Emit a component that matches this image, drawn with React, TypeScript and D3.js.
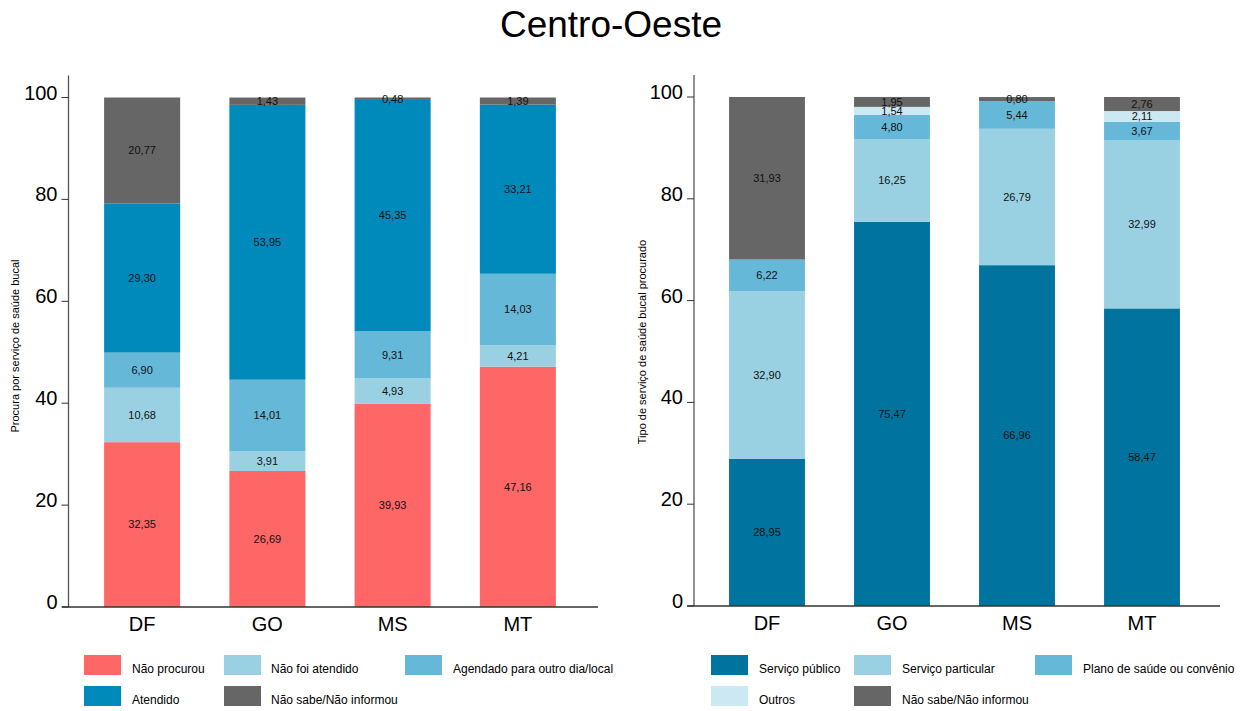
import React from "react";
import * as d3 from "d3";

const states = ["DF", "GO", "MS", "MT"];
const yTicks = [0, 20, 40, 60, 80, 100];

// painel esquerdo: procura por serviço
const procuraKeys = ["Não procurou", "Não foi atendido", "Agendado para outro dia/local", "Atendido", "Não sabe/Não informou"];
const procuraColors = ["#FF6666", "#99D1E3", "#66B8D8", "#008ABB", "#666666"];
const naoProcurou = [32.35, 26.69, 39.93, 47.16];
const naoFoiAtendido = [10.68, 3.91, 4.93, 4.21];
const agendado = [6.9, 14.01, 9.31, 14.03];
const atendido = [29.3, 53.95, 45.35, 33.21];
const procuraNaoSabe = [20.77, 1.43, 0.48, 1.39];

// painel direito: tipo de serviço
const tipoKeys = ["Serviço público", "Serviço particular", "Plano de saúde ou convênio", "Outros", "Não sabe/Não informou"];
const tipoColors = ["#00739E", "#99D1E3", "#66B8D8", "#CCE8F2", "#666666"];
const publico = [28.95, 75.47, 66.96, 58.47];
const particular = [32.9, 16.25, 26.79, 32.99];
const plano = [6.22, 4.8, 5.44, 3.67];
const outros = [0, 1.54, 0, 2.11];
const tipoNaoSabe = [31.93, 1.95, 0.8, 2.76];

const font = "'Liberation Sans', Arial, sans-serif";
const fmt = (v: number) => v.toFixed(2).replace(".", ",");

type PanelProps = {
  series: number[][];
  keys: string[];
  colors: string[];
  axisX: number;
  xRange: [number, number];
  lineRange: [number, number];
  yRange: [number, number];
  yLabel: string;
  yLabelX: number;
  yLabelY: number;
  legendX: number[];
  legendTextX: number[];
};

const Panel = (p: PanelProps) => {
  const x = d3.scaleBand().domain(states).range(p.xRange).paddingInner(0.393).paddingOuter(0.1965);
  const y = d3.scaleLinear().domain([0, 100]).range(p.yRange);
  const rows = states.map((s, i) => {
    const r: any = { state: s };
    p.keys.forEach((k, j) => (r[k] = p.series[j][i]));
    return r;
  });
  const stacked = d3.stack().keys(p.keys)(rows);

  return (
    <g fontFamily={font}>
      {stacked.map((layer, j) => (
        <g key={p.keys[j]} fill={p.colors[j]}>
          {layer.map((d, i) =>
            d[1] - d[0] > 0 ? (
              <rect key={i} x={x(states[i])} y={y(d[1])} width={x.bandwidth()} height={y(d[0]) - y(d[1])} />
            ) : null
          )}
        </g>
      ))}
      {stacked.map((layer, j) => (
        <g key={"l" + j} fontSize={11} fill="#111" textAnchor="middle">
          {layer.map((d, i) =>
            d[1] - d[0] > 0 ? (
              <text key={i} x={x(states[i])! + x.bandwidth() / 2} y={y((d[0] + d[1]) / 2)} dy="0.35em">
                {fmt(d[1] - d[0])}
              </text>
            ) : null
          )}
        </g>
      ))}
      {/* eixos */}
      <line x1={p.axisX} x2={p.axisX} y1={y(100) - 22} y2={y(0)} stroke="#555" strokeWidth={1.3} />
      <line x1={p.lineRange[0]} x2={p.lineRange[1]} y1={y(0)} y2={y(0)} stroke="#333" strokeWidth={1.5} />
      {yTicks.map((t) => (
        <g key={t}>
          <line x1={p.axisX - 7} x2={p.axisX} y1={y(t)} y2={y(t)} stroke="#333" />
          <text x={p.axisX - 11} y={y(t)} dy="0.1em" textAnchor="end" fontSize={20}>
            {t}
          </text>
        </g>
      ))}
      {states.map((s) => (
        <text key={s} x={x(s)! + x.bandwidth() / 2} y={y(0) + 24} textAnchor="middle" fontSize={20}>
          {s}
        </text>
      ))}
      <text transform={`translate(${p.yLabelX},${p.yLabelY}) rotate(-90)`} textAnchor="middle" fontSize={11}>
        {p.yLabel}
      </text>
      {/* legenda */}
      {p.keys.map((k, j) => {
        const col = j % 3;
        const row = Math.floor(j / 3);
        return (
          <g key={k}>
            <rect x={p.legendX[col]} y={655 + row * 31} width={37} height={20} fill={p.colors[j]} />
            <text x={p.legendTextX[col]} y={673 + row * 31} fontSize={12}>
              {k}
            </text>
          </g>
        );
      })}
    </g>
  );
};

export default function App() {
  return (
    <svg width={1241} height={711} style={{ position: "absolute", left: 0, top: 0, background: "#fff" }}>
      <text x={611} y={37} textAnchor="middle" fontSize={37} fontFamily={font}>
        Centro-Oeste
      </text>
      <Panel
        series={[naoProcurou, naoFoiAtendido, agendado, atendido, procuraNaoSabe]}
        keys={procuraKeys}
        colors={procuraColors}
        axisX={68.5}
        xRange={[79.5, 580.5]}
        lineRange={[62, 598]}
        yRange={[607, 97.5]}
        yLabel="Procura por serviço de saúde bucal"
        yLabelX={19}
        yLabelY={346}
        legendX={[84, 224, 405]}
        legendTextX={[132, 271, 453]}
      />
      <Panel
        series={[publico, particular, plano, outros, tipoNaoSabe]}
        keys={tipoKeys}
        colors={tipoColors}
        axisX={694}
        xRange={[704.5, 1204.5]}
        lineRange={[687, 1220]}
        yRange={[606, 97]}
        yLabel="Tipo de serviço de saúde bucal procurado"
        yLabelX={646}
        yLabelY={342}
        legendX={[711, 854, 1035]}
        legendTextX={[759, 902, 1083]}
      />
    </svg>
  );
}
